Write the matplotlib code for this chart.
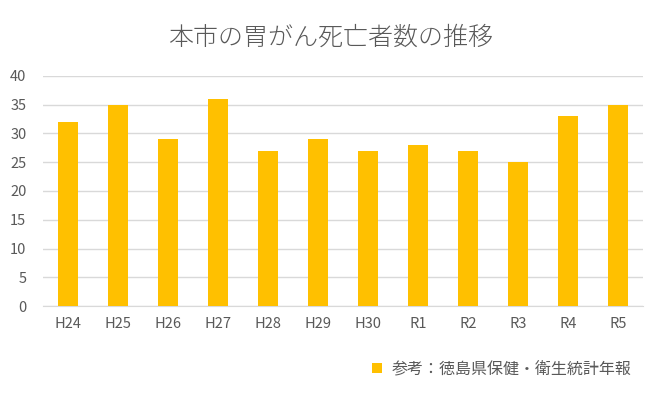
import matplotlib
matplotlib.use('Agg')
import matplotlib.pyplot as plt

plt.rcParams['font.family'] = ['Noto Sans CJK JP', 'DejaVu Sans']

# data
years = ["H24", "H25", "H26", "H27", "H28", "H29", "H30", "R1", "R2", "R3", "R4", "R5"]
deaths = [32, 35, 29, 36, 27, 29, 27, 28, 27, 25, 33, 35]
yticks = [0, 5, 10, 15, 20, 25, 30, 35, 40]

TEXT = '#595959'
BAR = '#FFC000'

fig = plt.figure(figsize=(6.62, 3.95), dpi=100)
ax = fig.add_axes([0.065, 0.225, 0.906, 0.583])

x = range(len(years))
ax.bar(x, deaths, width=0.4, color=BAR, label='参考：徳島県保健・衛生統計年報', zorder=3)

ax.set_ylim(0, 40)
ax.set_xlim(-0.5, len(years) - 0.5)
ax.set_yticks(yticks)
ax.set_xticks(list(x))
ax.set_xticklabels(years)
ax.grid(axis='y', color='#D9D9D9', linewidth=1, zorder=0)
for s in ['top', 'right', 'left']:
    ax.spines[s].set_visible(False)
ax.spines['bottom'].set_color('#D9D9D9')
ax.tick_params(axis='both', length=0, colors=TEXT, labelsize=10.5)
ax.tick_params(axis='x', pad=8)
ax.tick_params(axis='y', pad=12)

fig.text(0.5, 0.905, '本市の胃がん死亡者数の推移', ha='center', va='center',
         fontsize=18, color=TEXT, fontweight='light')

fig.legend(loc='center right', bbox_to_anchor=(0.975, 0.065), frameon=False,
           fontsize=11.5, labelcolor=TEXT, handlelength=0.6, handleheight=0.6,
           handletextpad=0.6)

fig.savefig('out.png', dpi=100, facecolor='white')
